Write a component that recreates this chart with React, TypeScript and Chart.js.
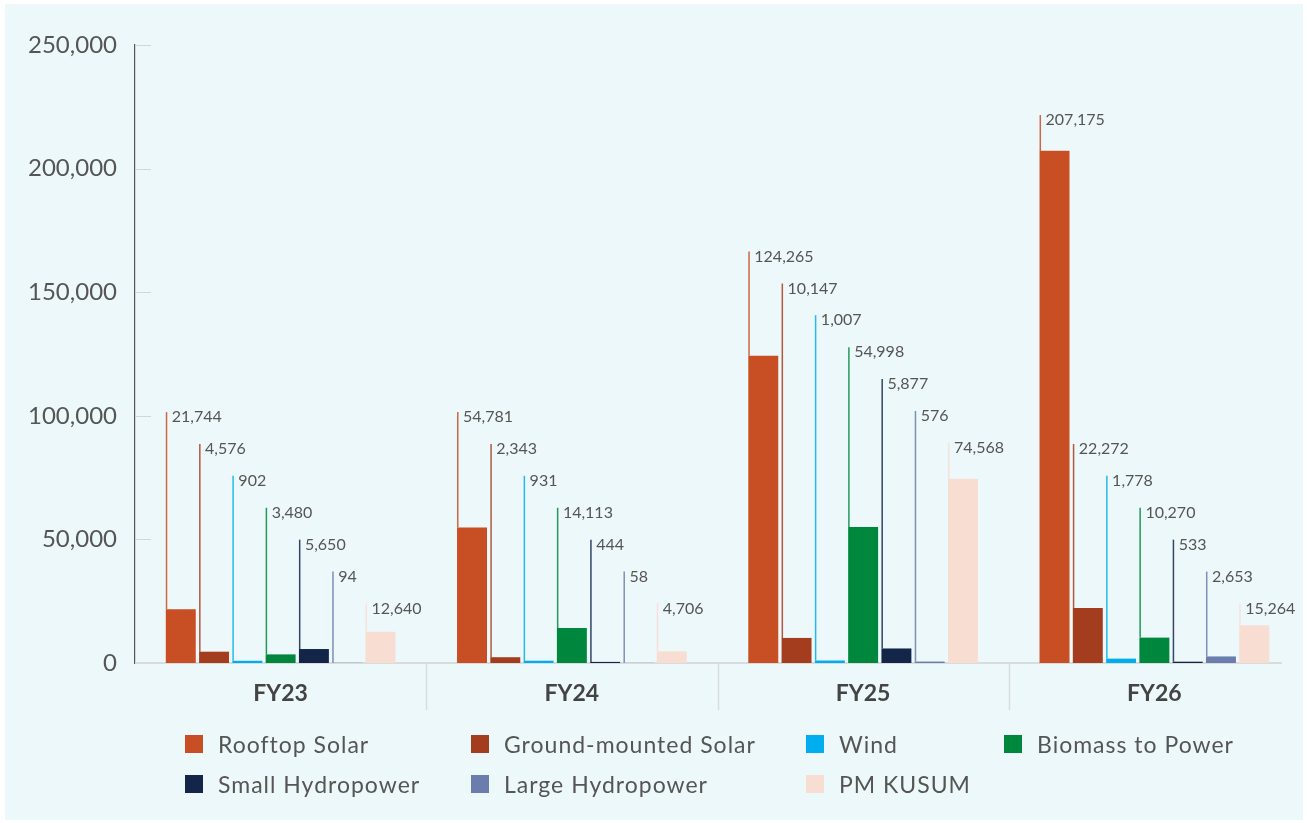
import React, { useEffect, useRef } from 'react';
import { Chart, registerables } from 'chart.js';

Chart.register(...registerables);

const categories = ['FY23', 'FY24', 'FY25', 'FY26'];
const seriesNames = [
  'Rooftop Solar',
  'Ground-mounted Solar',
  'Wind',
  'Biomass to Power',
  'Small Hydropower',
  'Large Hydropower',
  'PM KUSUM',
];
const rooftopSolar = [21744, 54781, 124265, 207175];
const groundMountedSolar = [4576, 2343, 10147, 22272];
const wind = [902, 931, 1007, 1778];
const biomassToPower = [3480, 14113, 54998, 10270];
const smallHydropower = [5650, 444, 5877, 533];
const largeHydropower = [94, 58, 576, 2653];
const pmKusum = [12640, 4706, 74568, 15264];
const seriesValues = [
  rooftopSolar,
  groundMountedSolar,
  wind,
  biomassToPower,
  smallHydropower,
  largeHydropower,
  pmKusum,
];
const seriesColors = ['#c84e24', '#a33d1d', '#00aeef', '#00873e', '#13264a', '#6a7dac', '#f8ddd3'];
const yTickValues = [0, 50000, 100000, 150000, 200000, 250000];

const FONT = 'Lato, "Open Sans", sans-serif';

// staggered leader-label levels (data units)
const LABEL_BASE = 101500;
const LABEL_STEP = 12900;
function computeLevels(j: number): number[] {
  const n = seriesValues.length;
  const levels = new Array(n).fill(0);
  for (let i = n - 1; i >= 0; i--) {
    let lvl = LABEL_BASE - i * LABEL_STEP;
    if (i < n - 1) lvl = Math.max(lvl, levels[i + 1] + LABEL_STEP);
    const v = seriesValues[i][j];
    if (v + 8000 > lvl) lvl = v + 14500;
    levels[i] = lvl;
  }
  return levels;
}

const decorPlugin = {
  id: 'decor',
  beforeDatasetsDraw(chart: any) {
    const { ctx, chartArea } = chart;
    const y = chart.scales.y;
    ctx.save();
    // short inner tick marks on y axis
    ctx.strokeStyle = '#d2d6d8';
    ctx.lineWidth = 1;
    yTickValues.forEach((v) => {
      if (v === 0) return;
      const py = Math.round(y.getPixelForValue(v)) + 0.5;
      ctx.beginPath();
      ctx.moveTo(chartArea.left, py);
      ctx.lineTo(chartArea.left + 16, py);
      ctx.stroke();
    });
    // baseline
    ctx.strokeStyle = '#d9dcdd';
    ctx.lineWidth = 2;
    const by = y.getPixelForValue(0);
    ctx.beginPath();
    ctx.moveTo(chartArea.left, by);
    ctx.lineTo(chartArea.right - 18, by);
    ctx.stroke();
    // category separators
    ctx.lineWidth = 1.5;
    const n = categories.length;
    const cw = (chartArea.right - chartArea.left) / n;
    for (let k = 1; k < n; k++) {
      const px = Math.round(chartArea.left + k * cw) + 0.5;
      ctx.beginPath();
      ctx.moveTo(px, by);
      ctx.lineTo(px, by + 47);
      ctx.stroke();
    }
    ctx.restore();
  },
  afterDatasetsDraw(chart: any) {
    const { ctx } = chart;
    const y = chart.scales.y;
    ctx.save();
    for (let j = 0; j < categories.length; j++) {
      const levels = computeLevels(j);
      for (let i = 0; i < seriesValues.length; i++) {
        const el = chart.getDatasetMeta(i).data[j];
        if (!el) continue;
        const left = el.x - el.width / 2;
        const lx = left + 0.75;
        const top = y.getPixelForValue(levels[i]);
        ctx.globalAlpha = 0.85;
        ctx.strokeStyle = seriesColors[i];
        ctx.lineWidth = 1.5;
        ctx.beginPath();
        ctx.moveTo(lx, el.y);
        ctx.lineTo(lx, top);
        ctx.stroke();
        ctx.globalAlpha = 1;
        ctx.fillStyle = '#555555';
        ctx.font = '16px ' + FONT;
        ctx.textAlign = 'left';
        ctx.textBaseline = 'middle';
        ctx.fillText(seriesValues[i][j].toLocaleString('en-US'), left + 6, top + 5);
      }
    }
    ctx.restore();
  },
};

const legendCols = [180, 466, 801, 999];
const legendRows = [740, 780];

export default function App() {
  const canvasRef = useRef<HTMLCanvasElement | null>(null);

  useEffect(() => {
    document.body.style.margin = '0';
    const canvas = canvasRef.current;
    if (!canvas) return;
    const chart = new Chart(canvas, {
      type: 'bar',
      data: {
        labels: categories,
        datasets: seriesNames.map((name, i) => ({
          label: name,
          data: seriesValues[i],
          backgroundColor: seriesColors[i],
          borderWidth: 0,
          categoryPercentage: 0.8,
          barPercentage: 0.9,
        })),
      },
      options: {
        animation: false,
        responsive: false,
        devicePixelRatio: 1,
        layout: { padding: { top: 41, left: 0, right: 3, bottom: 97 } },
        plugins: {
          legend: { display: false },
          tooltip: { enabled: false },
        },
        scales: {
          x: {
            grid: { display: false, drawTicks: false },
            border: { display: false },
            ticks: {
              padding: 17,
              color: '#444444',
              font: { family: FONT, size: 23, weight: 'bold' },
            },
            afterFit: (scale: any) => {
              scale.height = 60;
            },
          },
          y: {
            min: 0,
            max: 250000,
            grid: { display: false, drawTicks: false },
            border: { display: true, color: '#555555', width: 1.2 },
            afterBuildTicks: (scale: any) => {
              scale.ticks = yTickValues.map((v) => ({ value: v }));
            },
            ticks: {
              padding: 18,
              color: '#555555',
              font: { family: FONT, size: 24 },
              callback: (v: any) => Number(v).toLocaleString('en-US'),
            },
            afterFit: (scale: any) => {
              scale.width = 130;
            },
          },
        },
      },
      plugins: [decorPlugin],
    } as any);
    return () => chart.destroy();
  }, []);

  return (
    <div style={{ background: '#ffffff', width: 1307, height: 823, position: 'relative' }}>
      <div
        style={{
          position: 'absolute',
          left: 5,
          top: 4,
          width: 1298,
          height: 816,
          background: '#edf8fa',
        }}
      >
        <canvas ref={canvasRef} width={1298} height={816} style={{ display: 'block' }} />
        {seriesNames.map((name, i) => (
          <div
            key={name}
            style={{
              position: 'absolute',
              left: legendCols[i % 4],
              top: legendRows[Math.floor(i / 4)] - 14,
              height: 28,
              display: 'flex',
              alignItems: 'center',
              fontFamily: FONT,
              fontSize: 23,
              letterSpacing: '1px',
              color: '#555555',
              whiteSpace: 'nowrap',
            }}
          >
            <span
              style={{
                display: 'inline-block',
                width: 18,
                height: 18,
                background: seriesColors[i],
                marginRight: 15,
              }}
            />
            <span>{name}</span>
          </div>
        ))}
      </div>
    </div>
  );
}
